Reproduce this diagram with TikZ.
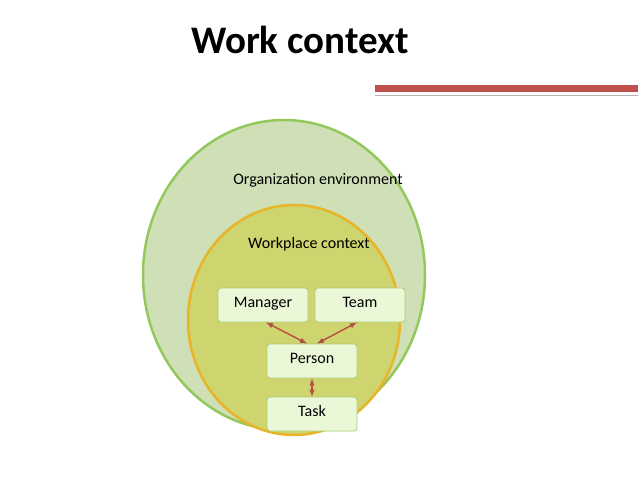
\documentclass[tikz,border=0pt]{standalone}
\usepackage{fontspec}
\setmainfont{Carlito}
\definecolor{redbar}{RGB}{192,80,77}
\definecolor{arrc}{RGB}{180,80,70}
\begin{document}
\begin{tikzpicture}[x=1pt,y=-1pt,
  box/.style={draw={rgb,255:red,170;green,205;blue,120},fill={rgb,255:red,235;green,248;blue,215},rounded corners=3pt,minimum width=90pt,minimum height=34pt,font=\fontsize{16}{18}\selectfont,line width=0.8pt,text height=1.6ex,text depth=0.4ex},
  arr/.style={<->,>=latex,draw=arrc,line width=1.4pt}]
\useasboundingbox (0,0) rectangle (638,479);
\fill[white] (0,0) rectangle (638,479);
\node[font=\bfseries\fontsize{39}{44}\selectfont] (title) at (300,40) {Work context};
\fill[redbar] (375,85) rectangle (638,92);
\draw[gray!60,line width=1pt] (375,95.5) -- (638,95.5);
\draw[fill={rgb,255:red,207;green,224;blue,183},draw={rgb,255:red,146;green,200;blue,92},line width=2.5pt] (284,275) ellipse [x radius=141,y radius=155];
\draw[fill={rgb,255:red,206;green,212;blue,110},draw={rgb,255:red,232;green,180;blue,40},line width=2.5pt] (294,320) ellipse [x radius=106,y radius=115];
\node[font=\fontsize{16}{18}\selectfont] (org) at (318,180) {Organization environment};
\node[font=\fontsize{16}{18}\selectfont] (wp) at (309,244) {Workplace context};
\node[box] (mgr) at (263,305) {Manager};
\node[box] (team) at (360,305) {Team};
\node[box] (per) at (312,361) {Person};
\node[box] (task) at (312,414) {Task};
\draw[arr] ([xshift=3pt]mgr.south) -- ([xshift=-5pt]per.north);
\draw[arr] ([xshift=-3pt]team.south) -- ([xshift=5pt]per.north);
\draw[arr] (per.south) -- (task.north);
\end{tikzpicture}
\end{document}
